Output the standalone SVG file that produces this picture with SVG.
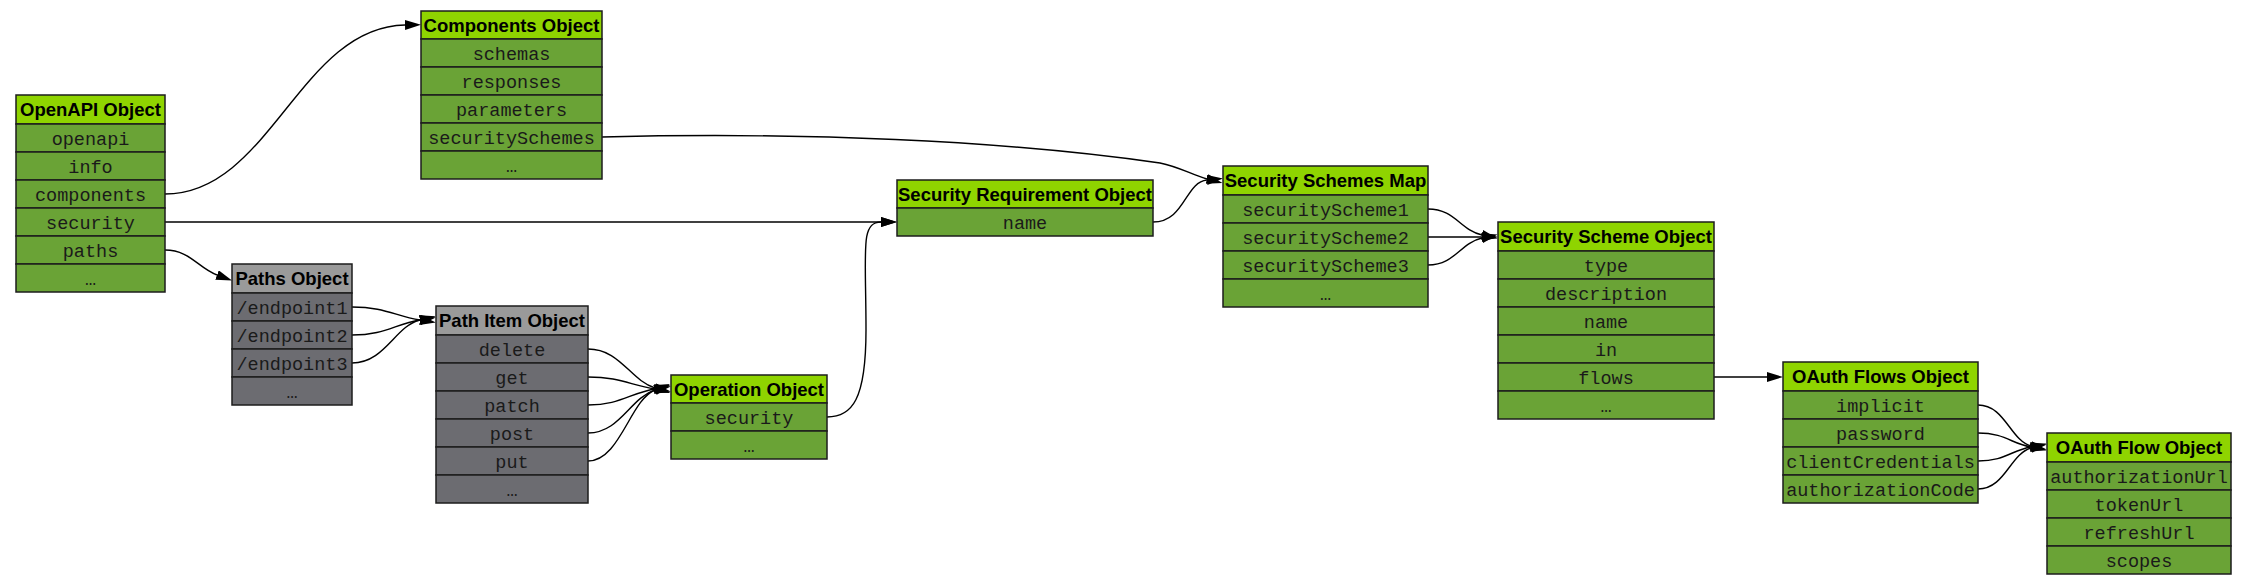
<svg xmlns="http://www.w3.org/2000/svg" width="2248" height="584" viewBox="0 0 2248 584">
<style>
.bg{fill:#ffffff}
.hd{fill:#8fd400;stroke:#1c1c1c;stroke-width:1.5}
.rw{fill:#6aa336;stroke:#1c1c1c;stroke-width:1.5}
.ghd{fill:#9a9a9a;stroke:#1c1c1c;stroke-width:1.5}
.grw{fill:#6c6c71;stroke:#1c1c1c;stroke-width:1.5}
.ht{font-family:"Liberation Sans",Arial,sans-serif;font-weight:bold;font-size:18.5px;fill:#000;text-anchor:middle}
.rt{font-family:"Liberation Mono","Courier New",monospace;font-size:18.5px;fill:#1a1a1a;text-anchor:middle}
.e{fill:none;stroke:#000;stroke-width:1.4}
</style>
<defs>
<marker id="ah" markerUnits="userSpaceOnUse" markerWidth="17" markerHeight="12" refX="0" refY="5" orient="auto">
<path d="M0,0 L16,5 L0,10 z" fill="#000"/>
</marker>
</defs>
<rect class="bg" x="0" y="0" width="2248" height="584"/>

<g id="connectors">
<path class="e" marker-end="url(#ah)" d="M165,194 C270,194 300,27 405,25"/>
<path class="e" marker-end="url(#ah)" d="M165,222 L881,222"/>
<path class="e" marker-end="url(#ah)" d="M165,250 C190,250 198,268 217,275"/>
<path class="e" marker-end="url(#ah)" d="M602,137 C800,132 1000,140 1160,163 C1180,167 1192,175 1207,179"/>
<path class="e" marker-end="url(#ah)" d="M1153,222 C1185,222 1185,182 1207,180"/>
<path class="e" marker-end="url(#ah)" d="M1428,209 C1455,209 1460,230 1482,235"/>
<path class="e" marker-end="url(#ah)" d="M1428,237 L1482,237"/>
<path class="e" marker-end="url(#ah)" d="M1428,265 C1455,265 1460,243 1482,238"/>
<path class="e" marker-end="url(#ah)" d="M1714,377 L1767,377"/>
<path class="e" marker-end="url(#ah)" d="M1978,405 C2005,405 2010,440 2031,446"/>
<path class="e" marker-end="url(#ah)" d="M1978,433 C2005,433 2012,444 2031,447"/>
<path class="e" marker-end="url(#ah)" d="M1978,461 C2005,461 2012,450 2031,447"/>
<path class="e" marker-end="url(#ah)" d="M1978,489 C2005,489 2010,454 2031,448"/>
<path class="e" marker-end="url(#ah)" d="M352,307 C385,307 395,316 420,320"/>
<path class="e" marker-end="url(#ah)" d="M352,335 C385,335 395,324 420,320"/>
<path class="e" marker-end="url(#ah)" d="M352,363 C385,363 395,326 420,320"/>
<path class="e" marker-end="url(#ah)" d="M588,349 C620,349 630,380 655,388"/>
<path class="e" marker-end="url(#ah)" d="M588,377 C620,377 630,385 655,389"/>
<path class="e" marker-end="url(#ah)" d="M588,405 C620,405 630,393 655,389"/>
<path class="e" marker-end="url(#ah)" d="M588,433 C620,433 630,398 655,390"/>
<path class="e" marker-end="url(#ah)" d="M588,461 C620,461 630,400 655,390"/>
<path class="e" marker-end="url(#ah)" d="M827,417 C852,417 866,400 866,330 C866,250 860,222 881,222"/>
</g>

<g id="openapi">
<rect class="hd" x="16" y="95" width="149" height="29"/>
<rect class="rw" x="16" y="124" width="149" height="28"/>
<rect class="rw" x="16" y="152" width="149" height="28"/>
<rect class="rw" x="16" y="180" width="149" height="28"/>
<rect class="rw" x="16" y="208" width="149" height="28"/>
<rect class="rw" x="16" y="236" width="149" height="28"/>
<rect class="rw" x="16" y="264" width="149" height="28"/>
<text class="ht" x="90.5" y="116">OpenAPI Object</text>
<text class="rt" x="90.5" y="145">openapi</text>
<text class="rt" x="90.5" y="173">info</text>
<text class="rt" x="90.5" y="201">components</text>
<text class="rt" x="90.5" y="229">security</text>
<text class="rt" x="90.5" y="257">paths</text>
<text class="rt" x="90.5" y="285">…</text>
</g>

<g id="components">
<rect class="hd" x="421" y="11" width="181" height="28"/>
<rect class="rw" x="421" y="39" width="181" height="28"/>
<rect class="rw" x="421" y="67" width="181" height="28"/>
<rect class="rw" x="421" y="95" width="181" height="28"/>
<rect class="rw" x="421" y="123" width="181" height="28"/>
<rect class="rw" x="421" y="151" width="181" height="28"/>
<text class="ht" x="511.5" y="32">Components Object</text>
<text class="rt" x="511.5" y="60">schemas</text>
<text class="rt" x="511.5" y="88">responses</text>
<text class="rt" x="511.5" y="116">parameters</text>
<text class="rt" x="511.5" y="144">securitySchemes</text>
<text class="rt" x="511.5" y="172">…</text>
</g>

<g id="paths">
<rect class="ghd" x="232" y="264" width="120" height="29"/>
<rect class="grw" x="232" y="293" width="120" height="28"/>
<rect class="grw" x="232" y="321" width="120" height="28"/>
<rect class="grw" x="232" y="349" width="120" height="28"/>
<rect class="grw" x="232" y="377" width="120" height="28"/>
<text class="ht" x="292" y="285">Paths Object</text>
<text class="rt" x="292" y="314">/endpoint1</text>
<text class="rt" x="292" y="342">/endpoint2</text>
<text class="rt" x="292" y="370">/endpoint3</text>
<text class="rt" x="292" y="398">…</text>
</g>

<g id="pathitem">
<rect class="ghd" x="436" y="306" width="152" height="29"/>
<rect class="grw" x="436" y="335" width="152" height="28"/>
<rect class="grw" x="436" y="363" width="152" height="28"/>
<rect class="grw" x="436" y="391" width="152" height="28"/>
<rect class="grw" x="436" y="419" width="152" height="28"/>
<rect class="grw" x="436" y="447" width="152" height="28"/>
<rect class="grw" x="436" y="475" width="152" height="28"/>
<text class="ht" x="512" y="327">Path Item Object</text>
<text class="rt" x="512" y="356">delete</text>
<text class="rt" x="512" y="384">get</text>
<text class="rt" x="512" y="412">patch</text>
<text class="rt" x="512" y="440">post</text>
<text class="rt" x="512" y="468">put</text>
<text class="rt" x="512" y="496">…</text>
</g>

<g id="operation">
<rect class="hd" x="671" y="375" width="156" height="28"/>
<rect class="rw" x="671" y="403" width="156" height="28"/>
<rect class="rw" x="671" y="431" width="156" height="28"/>
<text class="ht" x="749" y="396">Operation Object</text>
<text class="rt" x="749" y="424">security</text>
<text class="rt" x="749" y="452">…</text>
</g>

<g id="securityrequirement">
<rect class="hd" x="897" y="180" width="256" height="28"/>
<rect class="rw" x="897" y="208" width="256" height="28"/>
<text class="ht" x="1025" y="201">Security Requirement Object</text>
<text class="rt" x="1025" y="229">name</text>
</g>

<g id="securityschemesmap">
<rect class="hd" x="1223" y="166" width="205" height="29"/>
<rect class="rw" x="1223" y="195" width="205" height="28"/>
<rect class="rw" x="1223" y="223" width="205" height="28"/>
<rect class="rw" x="1223" y="251" width="205" height="28"/>
<rect class="rw" x="1223" y="279" width="205" height="28"/>
<text class="ht" x="1325.5" y="187">Security Schemes Map</text>
<text class="rt" x="1325.5" y="216">securityScheme1</text>
<text class="rt" x="1325.5" y="244">securityScheme2</text>
<text class="rt" x="1325.5" y="272">securityScheme3</text>
<text class="rt" x="1325.5" y="300">…</text>
</g>

<g id="securityscheme">
<rect class="hd" x="1498" y="222" width="216" height="29"/>
<rect class="rw" x="1498" y="251" width="216" height="28"/>
<rect class="rw" x="1498" y="279" width="216" height="28"/>
<rect class="rw" x="1498" y="307" width="216" height="28"/>
<rect class="rw" x="1498" y="335" width="216" height="28"/>
<rect class="rw" x="1498" y="363" width="216" height="28"/>
<rect class="rw" x="1498" y="391" width="216" height="28"/>
<text class="ht" x="1606" y="243">Security Scheme Object</text>
<text class="rt" x="1606" y="272">type</text>
<text class="rt" x="1606" y="300">description</text>
<text class="rt" x="1606" y="328">name</text>
<text class="rt" x="1606" y="356">in</text>
<text class="rt" x="1606" y="384">flows</text>
<text class="rt" x="1606" y="412">…</text>
</g>

<g id="oauthflows">
<rect class="hd" x="1783" y="362" width="195" height="29"/>
<rect class="rw" x="1783" y="391" width="195" height="28"/>
<rect class="rw" x="1783" y="419" width="195" height="28"/>
<rect class="rw" x="1783" y="447" width="195" height="28"/>
<rect class="rw" x="1783" y="475" width="195" height="28"/>
<text class="ht" x="1880.5" y="383">OAuth Flows Object</text>
<text class="rt" x="1880.5" y="412">implicit</text>
<text class="rt" x="1880.5" y="440">password</text>
<text class="rt" x="1880.5" y="468">clientCredentials</text>
<text class="rt" x="1880.5" y="496">authorizationCode</text>
</g>

<g id="oauthflow">
<rect class="hd" x="2047" y="433" width="184" height="29"/>
<rect class="rw" x="2047" y="462" width="184" height="28"/>
<rect class="rw" x="2047" y="490" width="184" height="28"/>
<rect class="rw" x="2047" y="518" width="184" height="28"/>
<rect class="rw" x="2047" y="546" width="184" height="28"/>
<text class="ht" x="2139" y="454">OAuth Flow Object</text>
<text class="rt" x="2139" y="483">authorizationUrl</text>
<text class="rt" x="2139" y="511">tokenUrl</text>
<text class="rt" x="2139" y="539">refreshUrl</text>
<text class="rt" x="2139" y="567">scopes</text>
</g>
</svg>
